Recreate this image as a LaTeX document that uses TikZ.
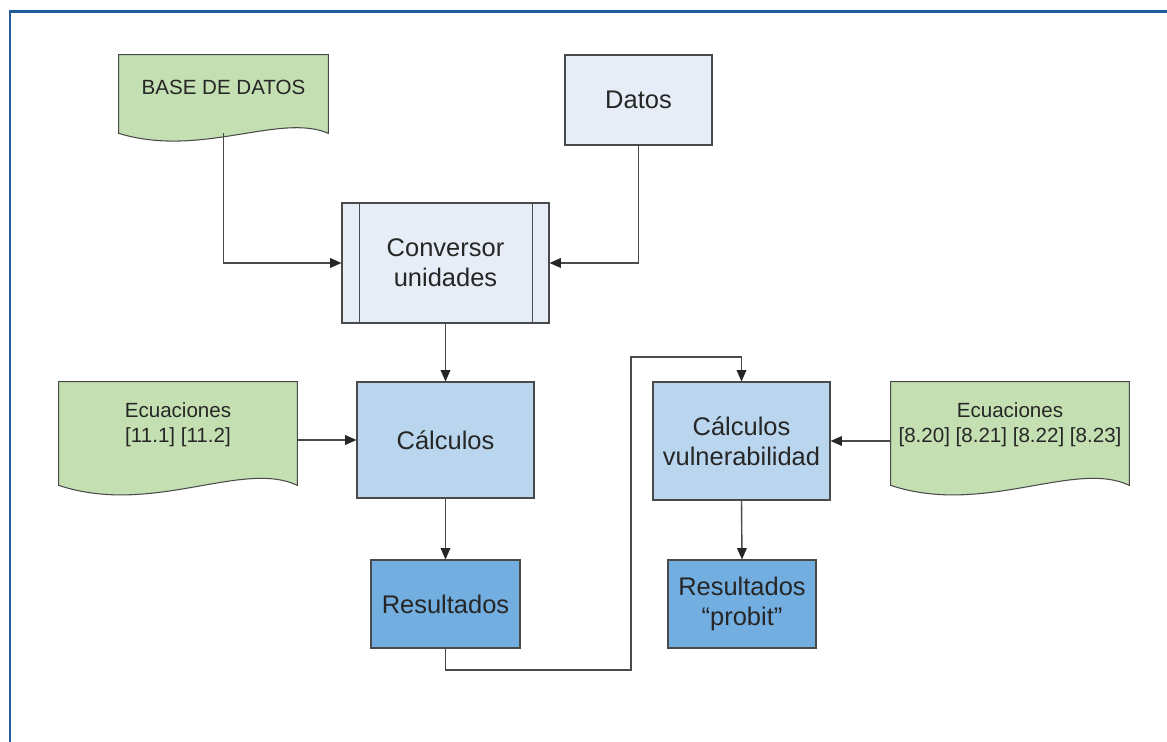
\documentclass[tikz,border=0pt]{standalone}
\usepackage{fontspec}
\setmainfont{Liberation Sans}
\usetikzlibrary{arrows.meta,calc}

\definecolor{docgreen}{HTML}{C4DFB2}
\definecolor{palebox}{HTML}{E6EDF7}
\definecolor{midbox}{HTML}{BAD6EE}
\definecolor{darkbox}{HTML}{72AEDF}
\definecolor{linegray}{HTML}{4A4A4A}
\definecolor{frameblue}{HTML}{1F5C99}

\tikzset{
  box/.style={draw=linegray, line width=0.6pt, align=center, inner sep=0pt,
    font=\fontsize{14.5}{17}\selectfont, text=black!85},
  doc/.style={inner sep=0pt},
  doctext/.style={align=center, font=\fontsize{11.7}{14.2}\selectfont, text=black!85},
  conn/.style={draw=linegray, line width=0.8pt,
    -{Triangle[length=6.5pt,width=5.5pt,color=black!85]}},
}

% wavy document shape drawn round a named node
\newcommand{\docshape}[2]{%
  \draw[draw=linegray, fill=docgreen, line width=0.6pt]
    (#1.north west) -- (#1.north east) -- (#1.south east)
    .. controls ($(#1.south east)!0.23!(#1.south west)+(0,-#2)$)
    and ($(#1.south east)!0.61!(#1.south west)+(0,#2*1.2)$) .. (#1.south west) -- cycle;}

\begin{document}
\begin{tikzpicture}[x=0.02cm, y=-0.02cm]
  \useasboundingbox (0,0) rectangle (1167,742);
  % frame
  \draw[frameblue, line width=1.7pt] (10,742) -- (10,12) -- (1167,12);

  % documents
  \node[doc, minimum width=4.18cm, minimum height=1.56cm] (base) at (223.5,94) {};
  \docshape{base}{21}
  \node[doctext] (base-txt) at (223.5,87) {BASE DE DATOS};

  \node[doc, minimum width=4.76cm, minimum height=2.06cm] (ec1) at (178,433.5) {};
  \docshape{ec1}{26}
  \node[doctext] (ec1-txt) at (178,425) {Ecuaciones\\{[11.1] [11.2]}};

  \node[doc, minimum width=4.76cm, minimum height=2.06cm] (ec2) at (1010,433.5) {};
  \docshape{ec2}{26}
  \node[doctext] (ec2-txt) at (1010,425) {Ecuaciones\\{[8.20] [8.21] [8.22] [8.23]}};

  % boxes
  \node[box, fill=palebox, minimum width=2.94cm, minimum height=1.8cm] (datos) at (638.5,100) {Datos};
  \node[box, fill=palebox, minimum width=4.14cm, minimum height=2.4cm] (conv) at (445.5,263) {Conversor\\unidades};
  \draw[linegray, line width=0.6pt] ($(conv.north west)+(18,0)$) -- ($(conv.south west)+(18,0)$);
  \draw[linegray, line width=0.6pt] ($(conv.north east)+(-17,0)$) -- ($(conv.south east)+(-17,0)$);
  \node[box, fill=midbox, minimum width=3.54cm, minimum height=2.32cm] (calc) at (445.5,440) {Cálculos};
  \node[box, fill=darkbox, minimum width=2.98cm, minimum height=1.76cm] (res) at (445.5,604) {Resultados};
  \node[box, fill=midbox, minimum width=3.54cm, minimum height=2.36cm] (cv) at (741.5,441) {Cálculos\\vulnerabilidad};
  \node[box, fill=darkbox, minimum width=2.96cm, minimum height=1.76cm] (prob) at (742,604) {Resultados\\“probit”};

  % connectors
  \coordinate (low) at (631,670);
  \coordinate (high) at (631,357);
  \draw[conn] (base.south) |- (conv.west);
  \draw[conn] (datos.south) |- (conv.east);
  \draw[conn] (conv.south) -- (calc.north);
  \draw[conn] (ec1.east |- calc.west) -- (calc.west);
  \draw[conn] (calc.south) -- (res.north);
  \draw[conn] (res.south) |- (low) -- (high) -| (cv.north);
  \draw[conn] (ec2.west |- cv.east) -- (cv.east);
  \draw[conn] (cv.south) -- (prob.north);
\end{tikzpicture}
\end{document}
